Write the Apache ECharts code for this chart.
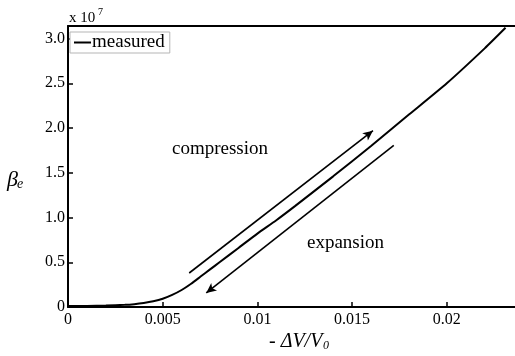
<!DOCTYPE html>
<html>
<head>
<meta charset="utf-8">
<script src="https://cdn.jsdelivr.net/npm/echarts@6/dist/echarts.min.js"></script>
<style>
html, body { margin: 0; padding: 0; background: #fff; }
#main { width: 515px; height: 356px; }
</style>
</head>
<body>
<div id="main"></div>
<script>
// -dV/V0 and beta_e (x 10^7)
var strain = [0, 0.001, 0.002, 0.003, 0.0035, 0.004, 0.0045, 0.005, 0.0055, 0.006, 0.0065, 0.007, 0.0075, 0.008, 0.009, 0.010, 0.011, 0.012, 0.014, 0.016, 0.018, 0.020, 0.022, 0.0231];
var beta = [0.01, 0.012, 0.016, 0.024, 0.032, 0.045, 0.064, 0.092, 0.135, 0.19, 0.26, 0.34, 0.42, 0.50, 0.66, 0.82, 0.97, 1.13, 1.46, 1.80, 2.15, 2.50, 2.89, 3.12];

// arrows: [start, end]
var compressionArrow = [[0.0064, 0.38], [0.0161, 1.97]];
var expansionArrow = [[0.0172, 1.805], [0.0073, 0.157]];

var xTickValues = [0, 0.005, 0.01, 0.015, 0.02];
var xTickLabels = ['0', '0.005', '0.01', '0.015', '0.02'];
var yTickValues = [0, 0.5, 1.0, 1.5, 2.0, 2.5, 3.0];
var yTickLabels = ['0', '0.5', '1.0', '1.5', '2.0', '2.5', '3.0'];

var serif = '"Liberation Serif", "Times New Roman", serif';

function pickLabel(values, labels, v) {
	for (var i = 0; i < values.length; i++) {
		if (Math.abs(values[i] - v) < 1e-9) return labels[i];
	}
	return '';
}

var myChart = echarts.init(document.getElementById('main'));

var curve = [];
for (var i = 0; i < strain.length; i++) {
	curve.push([strain[i], beta[i]]);
}

function arrowLine(a) {
	return [
		{ coord: a[0], symbol: 'none' },
		{ coord: a[1], symbol: 'arrow' }
	];
}

option = {
	backgroundColor: '#fff',
	animation: false,
	grid: {
		left: 68,
		top: 26,
		right: 0,
		bottom: 49,
		outerBoundsMode: 'none'
	},
	legend: {
		left: 70,
		top: 32,
		padding: [1, 5, 1, 4],
		borderColor: '#b5b5b5',
		borderWidth: 1,
		backgroundColor: '#fff',
		icon: 'rect',
		itemWidth: 17,
		itemHeight: 2,
		textStyle: {
			fontFamily: serif,
			fontSize: 19,
			color: '#000',
			padding: [0, 0, 0, -4]
		},
		data: ['measured']
	},
	xAxis: [{
		type: 'value',
		min: 0,
		max: 0.0236,
		splitLine: { show: false },
		axisLine: { onZero: false, lineStyle: { color: '#000', width: 2 } },
		axisTick: {
			inside: true,
			length: 5,
			customValues: xTickValues,
			lineStyle: { color: '#000', width: 1.5 }
		},
		axisLabel: {
			customValues: xTickValues,
			margin: 5,
			fontFamily: serif,
			fontSize: 16,
			color: '#000',
			formatter: function(v) {
				return pickLabel(xTickValues, xTickLabels, v);
			}
		}
	}, {
		type: 'value',
		position: 'top',
		min: 0,
		max: 0.0236,
		splitLine: { show: false },
		axisLine: { onZero: false, lineStyle: { color: '#000', width: 2 } },
		axisTick: { show: false },
		axisLabel: { show: false }
	}],
	yAxis: {
		type: 'value',
		min: 0,
		max: 3.14,
		splitLine: { show: false },
		axisLine: { show: true, onZero: false, lineStyle: { color: '#000', width: 2 } },
		axisTick: {
			inside: true,
			length: 5,
			customValues: yTickValues,
			lineStyle: { color: '#000', width: 1.5 }
		},
		axisLabel: {
			customValues: yTickValues,
			margin: 3,
			fontFamily: serif,
			fontSize: 16,
			color: '#000',
			formatter: function(v) {
				return pickLabel(yTickValues, yTickLabels, v);
			}
		}
	},
	series: [{
		name: 'measured',
		type: 'line',
		xAxisIndex: 0,
		data: curve,
		showSymbol: false,
		symbol: 'none',
		smooth: 0.2,
		lineStyle: { color: '#000', width: 2 },
		itemStyle: { color: '#000' },
		markLine: {
			silent: true,
			symbolSize: [7, 10],
			label: { show: false },
			lineStyle: { color: '#000', width: 1.6, type: 'solid' },
			data: [arrowLine(compressionArrow), arrowLine(expansionArrow)]
		}
	}],
	graphic: [{
		type: 'text', x: 172, y: 149,
		style: { text: 'compression', font: '19px ' + serif, fill: '#000', verticalAlign: 'middle' }
	}, {
		type: 'text', x: 307, y: 243,
		style: { text: 'expansion', font: '19px ' + serif, fill: '#000', verticalAlign: 'middle' }
	}, {
		type: 'text', x: 69, y: 18,
		style: { text: 'x 10', font: '15px ' + serif, fill: '#000', verticalAlign: 'middle' }
	}, {
		type: 'text', x: 98, y: 12,
		style: { text: '7', font: '10px ' + serif, fill: '#000', verticalAlign: 'middle' }
	}, {
		type: 'text', x: 7, y: 180,
		style: { text: 'β', font: 'italic 22px ' + serif, fill: '#000', verticalAlign: 'middle' }
	}, {
		type: 'text', x: 17, y: 184,
		style: { text: 'e', font: 'italic 14px ' + serif, fill: '#000', verticalAlign: 'middle' }
	}, {
		type: 'text', x: 269, y: 342,
		style: { text: '- ΔV/V', font: 'italic 20px ' + serif, fill: '#000', verticalAlign: 'middle' }
	}, {
		type: 'text', x: 323, y: 346,
		style: { text: '0', font: 'italic 12px ' + serif, fill: '#000', verticalAlign: 'middle' }
	}]
};

myChart.setOption(option);
</script>
</body>
</html>
